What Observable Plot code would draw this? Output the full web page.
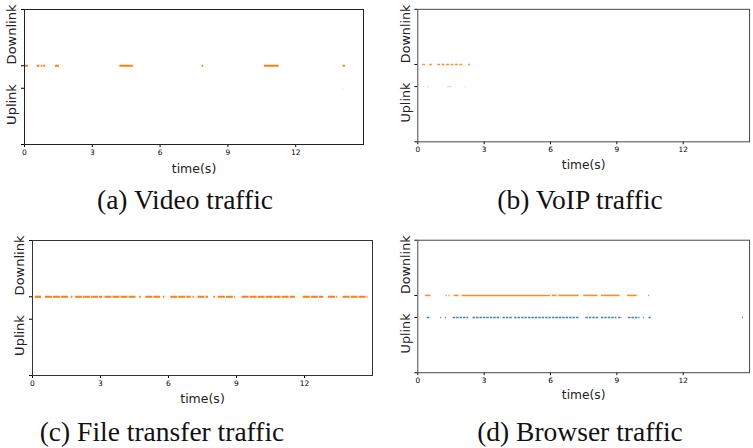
<!DOCTYPE html>
<html>
<head>
<meta charset="utf-8">
<script src="https://cdn.jsdelivr.net/npm/d3@7"></script>
<script src="https://cdn.jsdelivr.net/npm/@observablehq/plot@0.6"></script>
<style>
  html, body { margin: 0; padding: 0; background: #fff; }
  #root { position: relative; width: 753px; height: 448px; overflow: hidden; background: #fff; }
  .panel { position: absolute; }
  .cap { position: absolute; font-family: "Liberation Serif", serif; font-size: 27.5px; color: #111; white-space: nowrap; transform: translateX(-50%); line-height: 1; }
</style>
</head>
<body>
<div id="root"></div>
<script>
// Activity bursts, [start s, end s]
const videoDown = [[0.0,0.18],[0.56,0.68],[0.74,0.81],[0.85,0.94],[1.37,1.55],[4.22,4.82],[7.86,7.93],[10.62,11.27],[14.1,14.2]];
const videoUp = [[14.1,14.14]];
const voipDown = [[0.22,0.4],[0.53,0.66],[0.9,2.08],[2.3,2.39]];
const voipUp = [[0.45,0.53],[1.35,1.55],[2.15,2.2]];
const fileDown = [[0.13,0.4],[0.57,1.6],[1.72,1.78],[1.9,3.1],[3.2,4.6],[4.73,4.8],[5.0,5.65],[5.78,5.84],[6.1,7.0],[7.08,7.14],[7.3,7.77],[8.0,8.07],[8.2,8.95],[9.25,11.6],[11.95,12.85],[13.06,13.45],[13.7,14.8]];
const fileUp = [];
const browserDown = [[0.34,0.6],[1.28,1.33],[1.4,1.45],[1.64,1.86],[2.0,6.0],[6.07,6.3],[6.37,7.3],[7.5,8.15],[8.3,9.15],[9.48,9.92],[10.43,10.48]];
const browserUp = [[0.43,0.6],[1.04,1.08],[1.26,1.3],[1.6,2.3],[2.5,3.76],[3.85,4.3],[4.38,7.3],[7.6,8.2],[8.3,9.0],[9.08,9.25],[9.53,10.05],[10.2,10.24],[10.45,10.55],[14.68,14.72]];

const xTicks = [0, 3, 6, 9, 12];
const rowY = {Downlink: 0.2, Uplink: -0.2};
const yTicks = [-1.2, -0.2, 0.2, 1.2];
const labelY = {Downlink: 0.756, Uplink: -0.489};
const captions = ["(a) Video traffic", "(b) VoIP traffic", "(c) File transfer traffic", "(d) Browser traffic"];

const ORANGE = "#ff7f0e", BLUE = "#1f77b4";

function panel(down, up, o) {
  const seg = (arr) => arr.map(([s, e]) => ({start: s, end: e}));
  return Plot.plot({
    width: o.width, height: o.height,
    marginLeft: o.ml, marginRight: o.mr, marginTop: o.mt, marginBottom: o.mb,
    style: {fontFamily: "DejaVu Sans", fontSize: "7.5px", color: "#000", background: "transparent", overflow: "visible"},
    x: {domain: [0, 15], ticks: xTicks, tickSize: 3, tickPadding: 2, tickFormat: d => String(d), label: null},
    y: {domain: [-1.2, 1.2], ticks: yTicks, tickSize: 3, tickFormat: () => "", label: null},
    marks: [
      Plot.ruleY(seg(down), {x1: "start", x2: "end", y: rowY.Downlink, stroke: ORANGE, strokeWidth: o.sw, strokeOpacity: o.downOp, strokeDasharray: o.downDash}),
      Plot.ruleY(seg(up), {x1: "start", x2: "end", y: rowY.Uplink, stroke: BLUE, strokeWidth: o.sw, strokeOpacity: o.upOp, strokeDasharray: o.upDash}),
      Plot.frame({stroke: o.frame || "#222", strokeWidth: 1}),
      Plot.text(["Downlink"], {frameAnchor: "left", y: labelY.Downlink, rotate: -90, dx: -12.5, fontSize: 13, fill: "#222", textAnchor: "middle"}),
      Plot.text(["Uplink"], {frameAnchor: "left", y: labelY.Uplink, rotate: -90, dx: -12.5, fontSize: 13, fill: "#222", textAnchor: "middle"}),
      Plot.text(["time(s)"], {frameAnchor: "bottom", x: 7.5, dy: o.ty, fontSize: 12.5, fill: "#222"})
    ]
  });
}

const root = document.getElementById("root");
function place(node, left, top) {
  const d = document.createElement("div");
  d.className = "panel";
  d.style.left = left + "px"; d.style.top = top + "px";
  d.appendChild(node);
  root.appendChild(d);
}
function cap(text, cx, top) {
  const d = document.createElement("div");
  d.className = "cap";
  d.textContent = text;
  d.style.left = cx + "px"; d.style.top = top + "px";
  root.appendChild(d);
}

place(panel(videoDown, videoUp, {width: 375, height: 180, ml: 24, mr: 12, mt: 9, mb: 36, sw: 2, downOp: 1, upOp: 0.15, ty: 28}), 0, 0);
place(panel(voipDown, voipUp, {width: 380, height: 180, ml: 38, mr: 4, mt: 9, mb: 36, sw: 1.5, downOp: 0.85, upOp: 0.2, downDash: "3,1.5", frame: "#444", ty: 28}), 380, 0);
place(panel(fileDown, fileUp, {width: 380, height: 180, ml: 32, mr: 8, mt: 15, mb: 30, sw: 2.2, downOp: 1, upOp: 1, downDash: "7,1", frame: "#333", ty: 27}), 0, 225);
place(panel(browserDown, browserUp, {width: 380, height: 180, ml: 38, mr: 4, mt: 15, mb: 30, sw: 1.6, downOp: 0.9, upOp: 0.9, upDash: "2.5,1", frame: "#444", ty: 27}), 380, 225);

cap(captions[0], 185, 186);
cap(captions[1], 580, 186);
cap(captions[2], 162, 418);
cap(captions[3], 580, 418);
</script>
</body>
</html>
